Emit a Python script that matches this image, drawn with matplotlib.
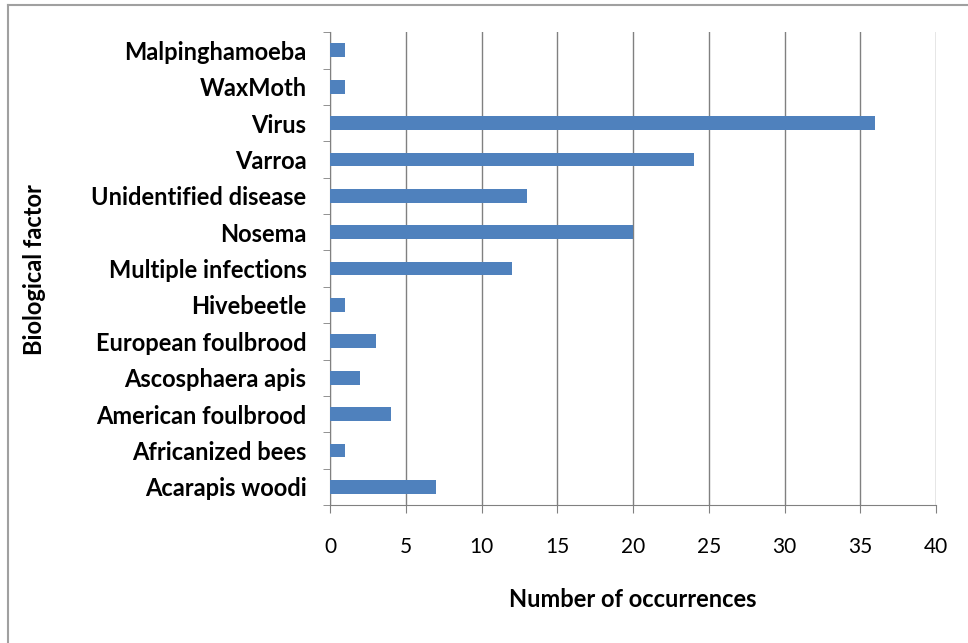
import matplotlib.pyplot as plt
from matplotlib.lines import Line2D

factors = ['Acarapis woodi', 'Africanized bees', 'American foulbrood',
           'Ascosphaera apis', 'European foulbrood', 'Hivebeetle',
           'Multiple infections', 'Nosema', 'Unidentified disease',
           'Varroa', 'Virus', 'WaxMoth', 'Malpinghamoeba']
counts = [7, 1, 4, 2, 3, 1, 12, 20, 13, 24, 36, 1, 1]
xticks = [0, 5, 10, 15, 20, 25, 30, 35, 40]

plt.rcParams['font.family'] = ['Lato', 'DejaVu Sans']

fig = plt.figure(figsize=(9.68, 6.43), dpi=100)
# outer chart frame: only left and top edges show in the picture
fig.lines.append(Line2D([7.5 / 968, 7.5 / 968], [0, 1 - 4.5 / 643], transform=fig.transFigure,
                        color='#a0a0a0', linewidth=1.5))
fig.lines.append(Line2D([7.5 / 968, 1], [1 - 4.5 / 643, 1 - 4.5 / 643], transform=fig.transFigure,
                        color='#a0a0a0', linewidth=1.5))
ax = fig.add_axes([0.341, 0.2146, 0.626, 0.7354])

pos = list(range(len(factors)))
ax.barh(pos, counts, height=0.38, color='#4F81BD', zorder=3)

ax.set_xlim(0, 40)
ax.set_ylim(-0.5, len(factors) - 0.5)
ax.set_xticks(xticks)
ax.set_xticklabels([str(v) for v in xticks], fontsize=15)
ax.set_yticks(pos)
ax.set_yticklabels(factors, fontsize=17, fontweight='bold')
ax.set_yticks([p - 0.5 for p in pos] + [len(factors) - 0.5], minor=True)
ax.tick_params(axis='y', which='major', length=0, pad=17)
ax.tick_params(axis='y', which='minor', length=5, color='#808080', direction='out')
ax.tick_params(axis='x', length=6, color='#808080', direction='out', pad=17)

ax.grid(axis='x', color='#808080', linewidth=1.0, zorder=0)
for s in ['top', 'right']:
    ax.spines[s].set_visible(False)
ax.spines['left'].set_color('#808080')
ax.spines['bottom'].set_color('#808080')

ax.set_xlabel('Number of occurrences', fontsize=17, fontweight='bold', labelpad=22)
fig.text(35 / 968, 1 - 270 / 643, 'Biological factor', rotation=90, fontsize=17,
         fontweight='bold', ha='center', va='center')

fig.savefig('out.png', dpi=100)
